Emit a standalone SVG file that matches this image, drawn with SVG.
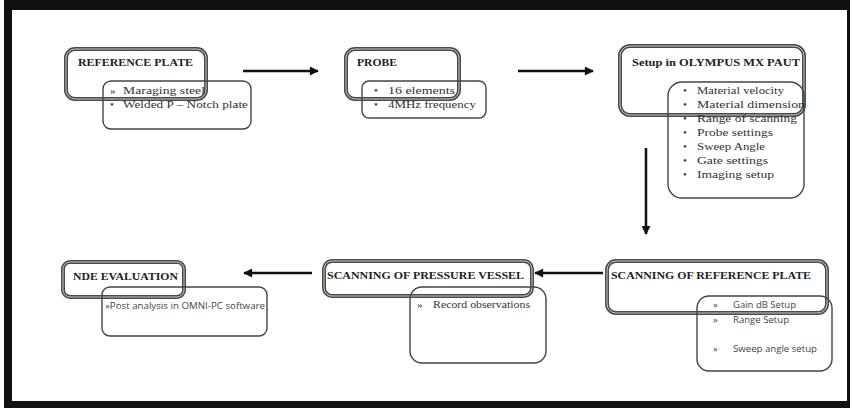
<svg xmlns="http://www.w3.org/2000/svg" width="852" height="410" viewBox="0 0 852 410">
<style>
.hb{fill:none;stroke:#4a4a4a;stroke-width:4}
.hi{fill:none;stroke:#c8c8c8;stroke-width:1}
.sb{fill:none;stroke:#444;stroke-width:1.4}
.h{font-family:"Liberation Serif",serif;font-weight:bold;font-size:11px;fill:#222}
.t{font-family:"Liberation Serif",serif;font-size:11px;fill:#333}
.s{font-family:"Open Sans","Liberation Sans",sans-serif;font-size:9.5px;fill:#444}
.c{stroke:#111;stroke-width:2.5;fill:none}
</style>
<defs>
<marker id="ah" viewBox="0 0 10 10" refX="9" refY="5" markerWidth="10" markerHeight="9" markerUnits="userSpaceOnUse" orient="auto">
<path d="M0,0 L10,5 L0,10 Z" fill="#111"/>
</marker>
</defs>
<rect x="4" y="0" width="846" height="408" fill="#111"/>
<rect x="12" y="10" width="835" height="391" fill="#fff"/>

<g id="reference-plate">
<rect class="hb" x="66" y="49" width="140" height="50" rx="9"/>
<rect class="hi" x="66" y="49" width="140" height="50" rx="9"/>
<text class="h" x="78" y="66" textLength="115" lengthAdjust="spacingAndGlyphs">REFERENCE PLATE</text>
<rect class="sb" x="103" y="81" width="148" height="48" rx="8"/>
<text class="t" x="110" y="94">»</text>
<text class="t" x="123" y="94" textLength="82" lengthAdjust="spacingAndGlyphs">Maraging steel</text>
<text class="t" x="110" y="108">•</text>
<text class="t" x="123" y="108" textLength="125" lengthAdjust="spacingAndGlyphs">Welded P – Notch plate</text>
</g>

<g id="probe">
<rect class="hb" x="346" y="49" width="113" height="50" rx="9"/>
<rect class="hi" x="346" y="49" width="113" height="50" rx="9"/>
<text class="h" x="357" y="66" textLength="40" lengthAdjust="spacingAndGlyphs">PROBE</text>
<rect class="sb" x="362" y="81" width="124" height="37" rx="7"/>
<text class="t" x="374" y="94">•</text>
<text class="t" x="388" y="94" textLength="67" lengthAdjust="spacingAndGlyphs">16 elements</text>
<text class="t" x="374" y="108">•</text>
<text class="t" x="388" y="108" textLength="88" lengthAdjust="spacingAndGlyphs">4MHz frequency</text>
</g>

<g id="setup">
<rect class="hb" x="620" y="46" width="184" height="69" rx="10"/>
<rect class="hi" x="620" y="46" width="184" height="69" rx="10"/>
<text class="h" x="632" y="66" textLength="168" lengthAdjust="spacingAndGlyphs">Setup in OLYMPUS MX PAUT</text>
<rect class="sb" x="668" y="82" width="136" height="116" rx="14"/>
<text class="t" x="683" y="94">•</text><text class="t" x="697" y="94" textLength="87" lengthAdjust="spacingAndGlyphs">Material velocity</text>
<text class="t" x="683" y="108">•</text><text class="t" x="697" y="108" textLength="108" lengthAdjust="spacingAndGlyphs">Material dimension</text>
<text class="t" x="683" y="122">•</text><text class="t" x="697" y="122" textLength="100" lengthAdjust="spacingAndGlyphs">Range of scanning</text>
<text class="t" x="683" y="136">•</text><text class="t" x="697" y="136" textLength="76" lengthAdjust="spacingAndGlyphs">Probe settings</text>
<text class="t" x="683" y="150">•</text><text class="t" x="697" y="150" textLength="68" lengthAdjust="spacingAndGlyphs">Sweep Angle</text>
<text class="t" x="683" y="164">•</text><text class="t" x="697" y="164" textLength="71" lengthAdjust="spacingAndGlyphs">Gate settings</text>
<text class="t" x="683" y="178">•</text><text class="t" x="697" y="178" textLength="77" lengthAdjust="spacingAndGlyphs">Imaging setup</text>
</g>

<g id="scanning-reference">
<rect class="hb" x="607" y="261" width="220" height="52" rx="9"/>
<rect class="hi" x="607" y="261" width="220" height="52" rx="9"/>
<text class="h" x="611" y="279" textLength="200" lengthAdjust="spacingAndGlyphs">SCANNING OF REFERENCE PLATE</text>
<rect class="sb" x="697" y="296" width="135" height="75" rx="12"/>
<text class="s" x="713" y="308">»</text><text class="s" x="733" y="308" textLength="63" lengthAdjust="spacingAndGlyphs">Gain dB Setup</text>
<text class="s" x="713" y="323">»</text><text class="s" x="733" y="323" textLength="56" lengthAdjust="spacingAndGlyphs">Range Setup</text>
<text class="s" x="713" y="352">»</text><text class="s" x="733" y="352" textLength="84" lengthAdjust="spacingAndGlyphs">Sweep angle setup</text>
</g>

<g id="scanning-vessel">
<rect class="hb" x="324" y="261" width="208" height="35" rx="8"/>
<rect class="hi" x="324" y="261" width="208" height="35" rx="8"/>
<text class="h" x="327" y="279" textLength="197" lengthAdjust="spacingAndGlyphs">SCANNING OF PRESSURE VESSEL</text>
<rect class="sb" x="410" y="287" width="136" height="76" rx="12"/>
<text class="t" x="417" y="308">»</text><text class="t" x="433" y="308" textLength="97" lengthAdjust="spacingAndGlyphs">Record observations</text>
</g>

<g id="nde-evaluation">
<rect class="hb" x="63" y="262" width="121" height="35" rx="7"/>
<rect class="hi" x="63" y="262" width="121" height="35" rx="7"/>
<text class="h" x="73" y="280" textLength="105" lengthAdjust="spacingAndGlyphs">NDE EVALUATION</text>
<rect class="sb" x="102" y="287" width="165" height="49" rx="8"/>
<text class="s" x="105" y="309" textLength="160" lengthAdjust="spacingAndGlyphs">»Post analysis in OMNI-PC software</text>
</g>

<g id="connectors">
<line class="c" x1="243" y1="71" x2="318" y2="71" marker-end="url(#ah)"/>
<line class="c" x1="518" y1="71" x2="593" y2="71" marker-end="url(#ah)"/>
<line class="c" x1="646" y1="148" x2="646" y2="234" marker-end="url(#ah)"/>
<line class="c" x1="603" y1="273" x2="535" y2="273" marker-end="url(#ah)"/>
<line class="c" x1="312" y1="273" x2="244" y2="273" marker-end="url(#ah)"/>
</g>
</svg>
